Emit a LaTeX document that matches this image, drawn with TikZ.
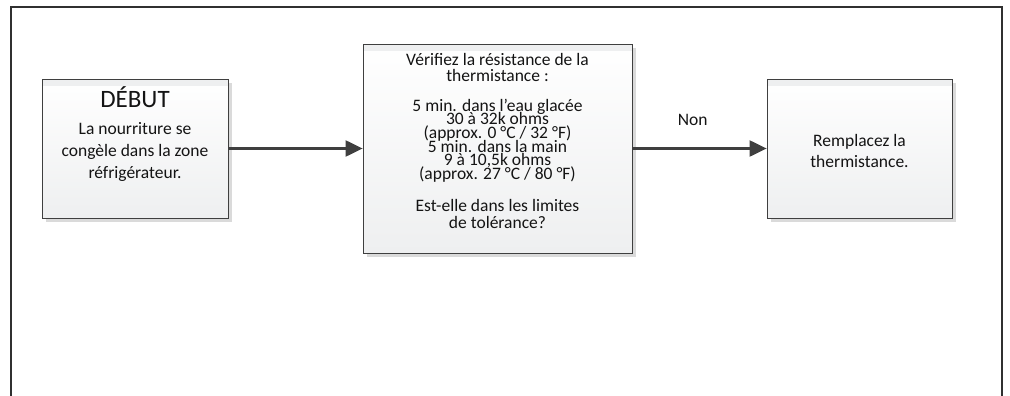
\documentclass[tikz,border=0pt]{standalone}
\usepackage{fontspec}
\setmainfont{Carlito}
\usetikzlibrary{arrows.meta,shadows}
\definecolor{ln}{HTML}{3F3F3F}
\definecolor{fr}{HTML}{303030}
\definecolor{bx}{HTML}{EEEFF0}
\definecolor{sh}{HTML}{DADADA}
\definecolor{txt}{HTML}{141414}
\newcommand{\mytightlines}{\lineskiplimit=-100pt\relax\lineskip=0pt\relax}
\tikzset{
  flowbox/.style={draw=ln, line width=0.8pt, inner sep=0pt,
    top color=white, bottom color=bx,
    drop shadow={shadow xshift=4pt, shadow yshift=-4pt, fill=sh, opacity=1},
    path picture={\fill[bx] (path picture bounding box.north west) rectangle ([yshift=-7pt]path picture bounding box.north east);}},
  boxtext/.style={align=center, inner sep=0pt, text=txt},
  conn/.style={draw=ln, line width=2.2pt, -{Triangle[length=17pt,width=16pt]}},
  frameline/.style={draw=fr, line width=2.2pt},
  lbl/.style={inner sep=0pt, text=txt, font=\fontsize{17.5}{20}\selectfont}
}
\begin{document}
\begin{tikzpicture}[x=1pt,y=1pt]
\useasboundingbox (0,0) rectangle (1010,-396);
% outer frame
\coordinate (fbl) at (11,-398);
\coordinate (ftl) at (11,-7);
\coordinate (ftr) at (1002,-7);
\coordinate (fbr) at (1002,-398);
\draw[frameline] (fbl) -- (ftl) -- (ftr) -- (fbr);
% boxes
\node[flowbox, minimum width=186pt, minimum height=139pt] (b1) at (135,-148.5) {};
\node[flowbox, minimum width=269pt, minimum height=209pt] (b2) at (497.5,-148.5) {};
\node[flowbox, minimum width=185pt, minimum height=139pt] (b3) at (859.5,-148.5) {};
% texts
\node[boxtext, font=\fontsize{25}{28}\selectfont] (t1a) at (135,-97) {DÉBUT};
\node[boxtext, font=\fontsize{17.5}{22}\selectfont] (t1b) at (135,-152) {La nourriture se\\congèle dans la zone\\réfrigérateur.};
\node[boxtext, anchor=north, font=\fontsize{17.5}{16}\selectfont\mytightlines] (t2) at (497.5,-53) {Vérifiez la résistance de la\\thermistance :\\[14pt]5 min. dans l’eau glacée\\[-2.4pt]30 à 32k ohms\\[-2.4pt](approx. 0 °C / 32 °F)\\[-2.4pt]5 min. dans la main\\[-2.4pt]9 à 10,5k ohms\\[-2.4pt](approx. 27 °C / 80 °F)\\[16pt]Est-elle dans les limites\\[1pt]de tolérance?};
\node[boxtext, font=\fontsize{17.5}{21}\selectfont] (t3) at (859.5,-150.5) {Remplacez la\\thermistance.};
% connectors
\draw[conn] (b1) -- (b2);
\draw[conn] (b2) -- node[pos=0.45, above=21.5pt, lbl] {Non} (b3);
\end{tikzpicture}
\end{document}
